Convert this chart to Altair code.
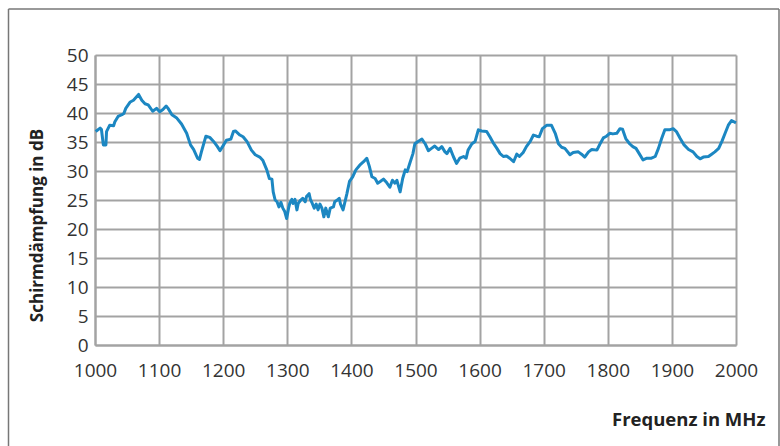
import altair as alt
import pandas as pd

# Shielding attenuation over frequency
freq_mhz = [
    1001, 1008, 1010, 1013, 1017, 1018, 1023, 1029, 1031, 1036, 1042, 1045, 1048,
    1055, 1060, 1068, 1073, 1078, 1083, 1090, 1096, 1101, 1106, 1111, 1114, 1120,
    1127, 1135, 1143, 1149, 1154, 1160, 1163, 1166, 1173, 1179, 1185, 1191, 1195,
    1199, 1205, 1212, 1216, 1219, 1226, 1231, 1237, 1244, 1250, 1257, 1262, 1268,
    1272, 1276, 1278, 1281, 1284, 1287, 1290, 1293, 1296, 1299, 1302, 1304, 1307,
    1309, 1312, 1315, 1317, 1321, 1324, 1328, 1330, 1334, 1336, 1339, 1342, 1345,
    1348, 1351, 1354, 1357, 1360, 1364, 1367, 1372, 1374, 1378, 1381, 1383, 1387,
    1393, 1397, 1402, 1407, 1413, 1419, 1424, 1428, 1432, 1437, 1441, 1445, 1450,
    1455, 1460, 1464, 1468, 1471, 1476, 1480, 1484, 1487, 1491, 1496, 1499, 1504,
    1510, 1515, 1520, 1525, 1530, 1536, 1541, 1546, 1549, 1554, 1559, 1564, 1569,
    1575, 1579, 1582, 1588, 1593, 1598, 1603, 1611, 1616, 1621, 1627, 1632, 1637,
    1642, 1647, 1653, 1658, 1662, 1668, 1673, 1679, 1684, 1689, 1693, 1698, 1705,
    1712, 1718, 1723, 1728, 1733, 1741, 1746, 1754, 1759, 1764, 1770, 1775, 1783,
    1788, 1793, 1798, 1803, 1808, 1814, 1819, 1823, 1828, 1834, 1839, 1844, 1849,
    1855, 1861, 1868, 1874, 1879, 1884, 1889, 1896, 1902, 1907, 1913, 1919, 1926,
    1933, 1939, 1944, 1949, 1957, 1962, 1967, 1973, 1978, 1983, 1988, 1993, 2000,
]
attenuation_db = [
    36.8, 37.4, 37.2, 34.5, 34.5, 36.8, 37.9, 37.8, 38.5, 39.4, 39.7, 39.9, 40.8,
    41.9, 42.2, 43.2, 42.2, 41.6, 41.4, 40.3, 40.8, 40.2, 40.6, 41.2, 40.8, 39.7,
    39.2, 38.1, 36.5, 34.5, 33.7, 32.2, 32.0, 33.3, 36.0, 35.8, 35.1, 34.2, 33.5,
    34.2, 35.3, 35.5, 36.8, 36.9, 36.2, 35.9, 35.1, 33.6, 32.8, 32.4, 31.8, 30.2,
    28.7, 28.6, 26.4, 25.0, 24.7, 23.8, 24.6, 23.6, 23.0, 21.8, 23.6, 24.5, 25.1,
    24.4, 25.1, 23.3, 24.4, 25.0, 25.3, 24.7, 25.6, 26.1, 25.1, 24.4, 23.6, 24.3,
    23.3, 24.3, 23.6, 22.1, 23.6, 22.1, 23.6, 23.8, 24.7, 25.0, 25.3, 24.3, 23.3,
    26.1, 28.2, 29.0, 30.2, 31.0, 31.6, 32.2, 30.8, 29.0, 28.7, 27.9, 28.2, 28.6,
    28.0, 27.2, 28.4, 27.9, 28.4, 26.4, 28.7, 30.2, 29.9, 31.3, 33.0, 34.7, 35.1,
    35.5, 34.7, 33.5, 33.9, 34.3, 33.7, 34.2, 33.3, 33.0, 33.9, 32.5, 31.3, 32.2,
    32.5, 32.2, 33.6, 34.7, 35.1, 37.1, 36.9, 36.8, 35.9, 34.9, 33.9, 33.0, 32.5,
    32.6, 32.2, 31.6, 32.9, 32.5, 33.2, 34.2, 35.1, 36.2, 36.0, 35.9, 37.3, 37.9,
    37.9, 36.5, 34.7, 34.1, 33.9, 32.8, 33.2, 33.3, 32.9, 32.4, 33.3, 33.7, 33.6,
    34.7, 35.7, 36.0, 36.5, 36.4, 36.5, 37.3, 37.2, 35.6, 34.7, 34.2, 33.9, 33.0,
    31.9, 32.2, 32.2, 32.5, 33.9, 35.6, 37.1, 37.1, 37.3, 36.8, 35.6, 34.5, 33.7,
    33.3, 32.5, 32.1, 32.4, 32.5, 32.9, 33.3, 33.9, 35.1, 36.5, 37.9, 38.7, 38.3,
]

x_ticks = list(range(1000, 2001, 100))
y_ticks = list(range(0, 51, 5))

df = pd.DataFrame({"f": freq_mhz, "db": attenuation_db})

FONT = "Open Sans"
GRID = "#a3a3a3"

line = alt.Chart(df).mark_line(color="#1c87c2", strokeWidth=3, strokeJoin="round").encode(
    x=alt.X(
        "f:Q",
        scale=alt.Scale(domain=[1000, 2000], nice=False, zero=False),
        axis=alt.Axis(
            values=x_ticks, format="d", title="Frequenz in MHz",
            labelPadding=16, labelFlush=False, labelOverlap=False,
            titleX=670, titleY=80, titleAlign="right",
            titleBaseline="alphabetic", titleAngle=0, titleFontSize=18.5,
        ),
    ),
    y=alt.Y(
        "db:Q",
        scale=alt.Scale(domain=[0, 50], nice=False),
        axis=alt.Axis(
            values=y_ticks, format="d", title="Schirmdämpfung in dB",
            labelPadding=7, labelFlush=False, labelOverlap=False,
            titleX=-53, titleY=170, titleAngle=-90,
            titleAlign="center", titleBaseline="alphabetic", titleFontSize=17,
        ),
    ),
)

# Outer frame around the figure (left, top and right edges)
frame_src = alt.Chart(pd.DataFrame({"k": [0]}))
frame_style = dict(color="#777777", strokeWidth=1.5)
frame_left = frame_src.mark_rule(**frame_style).encode(
    x=alt.value(-86.5), y=alt.value(-46), y2=alt.value(391)
)
frame_top = frame_src.mark_rule(**frame_style).encode(
    x=alt.value(-86.5), x2=alt.value(684), y=alt.value(-46)
)
frame_right = frame_src.mark_rule(**frame_style).encode(
    x=alt.value(684), y=alt.value(-46), y2=alt.value(391)
)

chart = (
    alt.layer(line, frame_left, frame_top, frame_right)
    .properties(
        width=641,
        height=290,
        autosize=alt.AutoSizeParams(type="none"),
        padding={"left": 95, "top": 55, "right": 44, "bottom": 101},
        background="white",
    )
    .configure_view(strokeWidth=0)
    .configure_axis(
        grid=True,
        gridColor=GRID,
        gridWidth=2,
        gridOpacity=1,
        domainColor=GRID,
        domainWidth=2,
        ticks=False,
        tickSize=0,
        labelFont=FONT,
        labelFontSize=19,
        labelColor="#333333",
        titleFont=FONT,
        titleFontWeight="bold",
        titleColor="#222222",
    )
)

chart.save("out.html", embed_options={"renderer": "svg", "actions": False})
